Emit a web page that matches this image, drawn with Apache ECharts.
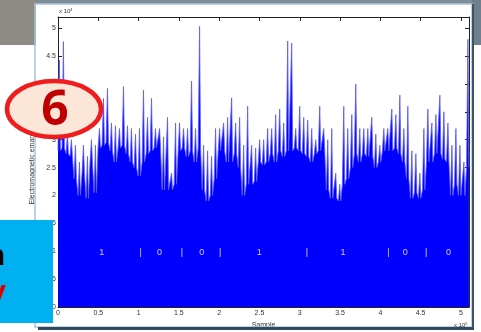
<!DOCTYPE html>
<html>
<head>
<meta charset="utf-8">
<script src="https://cdn.jsdelivr.net/npm/echarts@6/dist/echarts.min.js"></script>
<style>
html, body { margin: 0; padding: 0; background: #fff; }
#main { width: 481px; height: 332px; }
</style>
</head>
<body>
<div id="main"></div>
<script>
// sample bins, in units of 1e5 samples
var binStep = 0.0497;

// spike tops per bin (x 1e4)
var peak = [
    4.43, 4.76, 3.1, 3.0, 2.9, 2.6, 2.9, 2.7, 3.0, 2.9,
    3.2, 3.74, 3.92, 3.3, 3.25, 3.2, 3.95, 3.25, 3.2, 3.1,
    3.2, 3.89, 3.4, 3.74, 3.2, 3.2, 3.05, 3.4, 2.4, 3.3,
    3.3, 3.2, 3.2, 4.05, 3.2, 5.03, 2.9, 2.8, 2.7, 3.2,
    3.2, 3.3, 3.4, 3.75, 3.3, 3.4, 2.9, 3.6, 2.9, 2.85,
    3.0, 3.0, 3.2, 3.2, 3.45, 3.55, 3.3, 4.77, 4.73, 3.2,
    3.6, 3.4, 3.35, 3.2, 3.0, 3.6, 3.2, 3.0, 3.2, 2.4,
    2.2, 3.6, 3.2, 3.45, 4.0, 3.2, 3.2, 3.2, 3.4, 3.1,
    2.9, 3.2, 3.2, 3.55, 3.45, 3.8, 3.2, 3.6, 2.8, 2.75,
    2.4, 3.2, 3.55, 3.3, 3.45, 3.8, 3.5, 3.3, 2.9, 3.2,
    2.9, 2.6, 4.8
];

// solid fill level per bin (x 1e4)
var base = [
    2.8, 2.85, 2.75, 2.7, 2.3, 2.0, 2.4, 1.95, 2.6, 2.05,
    2.85, 2.9, 2.95, 2.8, 2.6, 2.85, 2.9, 2.75, 2.6, 2.5,
    2.35, 2.6, 2.75, 2.8, 2.85, 2.85, 2.1, 2.1, 2.1, 2.2,
    2.8, 2.85, 2.7, 2.8, 2.6, 2.85, 2.1, 1.9, 2.0, 2.3,
    2.8, 2.8, 2.6, 2.6, 2.75, 2.5, 2.0, 2.2, 2.2, 2.25,
    2.6, 2.55, 2.6, 2.75, 2.6, 2.8, 2.7, 2.8, 2.8, 2.85,
    2.8, 2.75, 2.7, 2.6, 2.75, 2.8, 2.8, 2.1, 1.95, 1.95,
    1.9, 2.2, 2.3, 2.5, 2.75, 2.6, 2.75, 2.7, 2.7, 2.5,
    2.6, 2.8, 2.8, 2.8, 2.85, 2.75, 2.6, 2.3, 1.95, 2.05,
    1.95, 2.1, 2.6, 2.6, 2.75, 2.75, 2.65, 2.6, 2.0, 2.2,
    2.0, 2.0, 2.5
];

// bit annotations written on the trace
var bitX = [0.543, 1.027, 1.26, 1.537, 1.785, 2.012, 2.497, 3.09, 3.537, 4.10, 4.31, 4.568, 4.845];
var bitText = ['1', '|', '0', '|', '0', '|', '1', '|', '1', '|', '0', '|', '0'];
var bitY = 0.97;

var chartDom = document.getElementById('main');
var myChart = echarts.init(chartDom, null, { renderer: 'canvas' });

var signal = [];
for (var i = 0; i < peak.length; i++) {
    var x0 = i * binStep;
    signal.push([x0, base[i]]);
    signal.push([x0 + binStep * 0.35, peak[i]]);
    signal.push([x0 + binStep * 0.6, base[i]]);
}

var bits = bitX.map(function (x, k) {
    return { value: [x, bitY], name: bitText[k] };
});

var tickFmt = function (v) {
    var r = Math.round(v * 2) / 2;
    if (Math.abs(r - v) > 1e-6) return '';
    return String(r);
};

var font = 'Liberation Sans, Arial, sans-serif';

var option = {
    animation: false,
    backgroundColor: '#fff',
    grid: {
        left: 58,
        right: 12,
        top: 17,
        bottom: 25,
        containLabel: false,
        outerBoundsMode: 'none'
    },
    xAxis: [{
        type: 'value',
        min: 0,
        max: 5.1,
        interval: 0.5,
        name: 'Sample',
        nameLocation: 'middle',
        nameGap: 12,
        nameTextStyle: { fontSize: 7, color: '#333', fontFamily: font },
        axisLine: { show: true, onZero: false, lineStyle: { color: '#222', width: 1 } },
        axisTick: { show: true, inside: true, length: 4, lineStyle: { color: '#222' } },
        axisLabel: { fontSize: 7, color: '#333', fontFamily: font, margin: 3, formatter: tickFmt },
        splitLine: { show: false }
    }, {
        type: 'value',
        position: 'top',
        min: 0,
        max: 5.1,
        interval: 0.5,
        axisLine: { show: true, onZero: false, lineStyle: { color: '#222', width: 1 } },
        axisTick: { show: true, inside: true, length: 4, lineStyle: { color: '#222' } },
        axisLabel: { show: false },
        splitLine: { show: false }
    }],
    yAxis: [{
        type: 'value',
        min: 0,
        max: 5.2,
        interval: 0.5,
        name: 'Electromagnetic emanation',
        nameLocation: 'middle',
        nameGap: 12,
        nameRotate: 90,
        nameTextStyle: { fontSize: 7, color: '#333', fontFamily: font },
        axisLine: { show: true, onZero: false, lineStyle: { color: '#222', width: 1 } },
        axisTick: { show: true, inside: true, length: 4, lineStyle: { color: '#222' } },
        axisLabel: { fontSize: 7, color: '#333', fontFamily: font, margin: 2, formatter: tickFmt },
        splitLine: { show: false }
    }, {
        type: 'value',
        position: 'right',
        min: 0,
        max: 5.2,
        interval: 0.5,
        axisLine: { show: true, onZero: false, lineStyle: { color: '#222', width: 1 } },
        axisTick: { show: true, inside: true, length: 4, lineStyle: { color: '#222' } },
        axisLabel: { show: false },
        splitLine: { show: false }
    }],
    series: [{
        type: 'line',
        data: signal,
        symbol: 'none',
        silent: true,
        lineStyle: { color: '#5a5aff', width: 0.8 },
        areaStyle: { color: '#0000ff', opacity: 1 },
        z: 2
    }, {
        type: 'scatter',
        data: bits,
        symbolSize: 1,
        itemStyle: { color: 'rgba(0,0,0,0)' },
        label: {
            show: true,
            position: 'inside',
            formatter: '{b}',
            color: '#fff',
            fontSize: 9,
            fontFamily: font
        },
        z: 5
    }],
    graphic: [
        // slide / window surroundings
        { type: 'rect', shape: { x: 0, y: 0, width: 36, height: 45 }, style: { fill: '#8e8a86' }, z: 100 },
        { type: 'rect', shape: { x: 36, y: 0, width: 445, height: 4 }, style: { fill: '#7d8c96' }, z: 100 },
        { type: 'rect', shape: { x: 472, y: 0, width: 9, height: 45 }, style: { fill: '#6e808c' }, z: 100 },
        { type: 'rect', shape: { x: 35, y: 4, width: 437, height: 323 }, style: { fill: 'none', stroke: '#a9c3dd', lineWidth: 1.5 }, z: 100 },
        { type: 'rect', shape: { x: 472, y: 4, width: 2, height: 326 }, style: { fill: '#3d5468' }, z: 100 },
        { type: 'rect', shape: { x: 38, y: 327, width: 436, height: 3 }, style: { fill: '#34495e' }, z: 100 },
        // exponent labels
        {
            type: 'text', x: 59, y: 8, z: 100,
            style: { text: 'x 10{s|4}', fontSize: 6, fill: '#333', fontFamily: font, rich: { s: { fontSize: 4, verticalAlign: 'top', fill: '#333' } } }
        },
        {
            type: 'text', x: 454, y: 322, z: 100,
            style: { text: 'x 10{s|5}', fontSize: 6, fill: '#333', fontFamily: font, rich: { s: { fontSize: 4, verticalAlign: 'top', fill: '#333' } } }
        },
        // blue callout box at lower left
        { type: 'rect', shape: { x: 0, y: 220, width: 53, height: 103 }, style: { fill: '#00b0f0' }, z: 110 },
        { type: 'text', x: 5, y: 257, z: 111, style: { text: 'n', fontSize: 30, fontWeight: 'bold', fill: '#000', align: 'right', verticalAlign: 'middle', fontFamily: font } },
        { type: 'text', x: 6, y: 293, z: 111, style: { text: 'y', fontSize: 30, fontWeight: 'bold', fill: '#e00000', align: 'right', verticalAlign: 'middle', fontFamily: font } },
        // red step badge
        {
            type: 'ellipse', z: 120,
            shape: { cx: 54, cy: 109, rx: 47, ry: 28 },
            style: { fill: '#fbe6d8', stroke: '#ef1d1d', lineWidth: 4.5 }
        },
        {
            type: 'text', x: 55, y: 111, z: 121,
            style: { text: '6', fontSize: 48, fontWeight: 'bold', fill: '#c00000', align: 'center', verticalAlign: 'middle', fontFamily: 'Open Sans, Liberation Sans, sans-serif' }
        }
    ]
};

myChart.setOption(option);
</script>
</body>
</html>
